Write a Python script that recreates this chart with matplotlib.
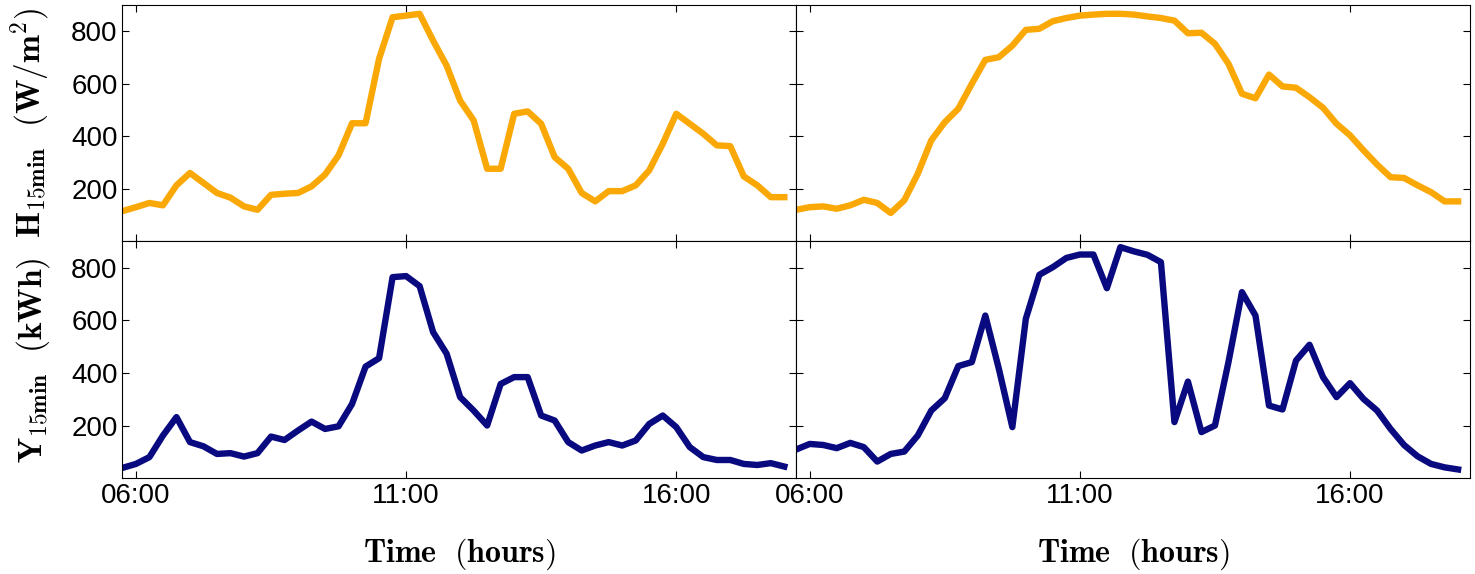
import numpy as np
import matplotlib
matplotlib.use("Agg")
import matplotlib.pyplot as plt

# 15-minute steps, 05:45 .. 18:00
hours = 5.75 + 0.25 * np.arange(50)

irr_day1 = [115, 130, 146, 137, 213, 260, 222, 184, 166, 133,
            120, 177, 181, 184, 209, 254, 327, 449, 449, 694,
            852, 858, 865, 763, 668, 535, 460, 276, 276, 485,
            494, 447, 320, 276, 184, 152, 191, 191, 213, 270,
            371, 485, 447, 409, 365, 362, 247, 213, 168, 168]
irr_day2 = [120, 130, 133, 124, 137, 158, 146, 108, 156, 257,
            384, 453, 504, 599, 690, 700, 744, 804, 808, 837,
            849, 858, 862, 865, 865, 862, 855, 849, 839, 791,
            793, 751, 675, 561, 544, 634, 589, 584, 548, 508,
            447, 403, 346, 292, 244, 241, 213, 187, 152, 152]
yield_day1 = [39, 54, 80, 162, 232, 137, 121, 92, 95, 82,
              95, 158, 145, 181, 215, 187, 197, 282, 424, 456,
              764, 768, 730, 555, 473, 308, 257, 200, 358, 384,
              384, 238, 219, 137, 105, 124, 137, 124, 143, 206,
              238, 194, 118, 80, 69, 69, 54, 50, 57, 44]
yield_day2 = [109, 130, 126, 114, 134, 118, 63, 92, 101, 162,
              257, 304, 426, 441, 618, 416, 194, 606, 773, 802,
              837, 850, 850, 722, 878, 862, 849, 821, 213, 367,
              175, 200, 441, 707, 618, 276, 261, 447, 507, 384,
              308, 361, 301, 257, 187, 126, 83, 54, 41, 33]

xticks = [6, 11, 16]
xticklabels = ["06:00", "11:00", "16:00"]
yticks = [200, 400, 600, 800]

plt.rcParams["font.family"] = ["Liberation Sans", "DejaVu Sans"]
plt.rcParams["mathtext.fontset"] = "cm"
plt.rcParams["xtick.direction"] = "in"
plt.rcParams["ytick.direction"] = "in"
plt.rcParams["xtick.top"] = True
plt.rcParams["ytick.right"] = True
plt.rcParams["xtick.major.size"] = 5
plt.rcParams["ytick.major.size"] = 5

fig, axes = plt.subplots(2, 2, figsize=(14.75, 5.74), dpi=100, sharex=True, sharey=True)
fig.subplots_adjust(left=0.083, right=0.9966, top=0.992, bottom=0.167, wspace=0, hspace=0)

series = [[irr_day1, irr_day2], [yield_day1, yield_day2]]
colors = ["#FAA805", "#0A0A80"]
for r in range(2):
    for c in range(2):
        ax = axes[r][c]
        ax.plot(hours, series[r][c], color=colors[r], lw=4.6)
        ax.set_xlim(5.75, 18.22)
        ax.set_ylim(0, 900)
        ax.set_xticks(xticks)
        ax.set_xticklabels(xticklabels)
        ax.set_yticks(yticks)
        ax.tick_params(labelsize=20)

for ax in axes[1]:
    ax.set_xlabel(r"$\mathbf{Time\ \ (hours)}$", fontsize=23, labelpad=20)

axes[0][0].set_ylabel(r"$\mathbf{H}_{\mathbf{15min}}\ \ \mathbf{(W/m^2)}$", fontsize=24, labelpad=14)
axes[1][0].set_ylabel(r"$\mathbf{Y}_{\mathbf{15min}}\ \ \mathbf{(kWh)}$", fontsize=24, labelpad=14)

fig.savefig("out.png", dpi=100)
